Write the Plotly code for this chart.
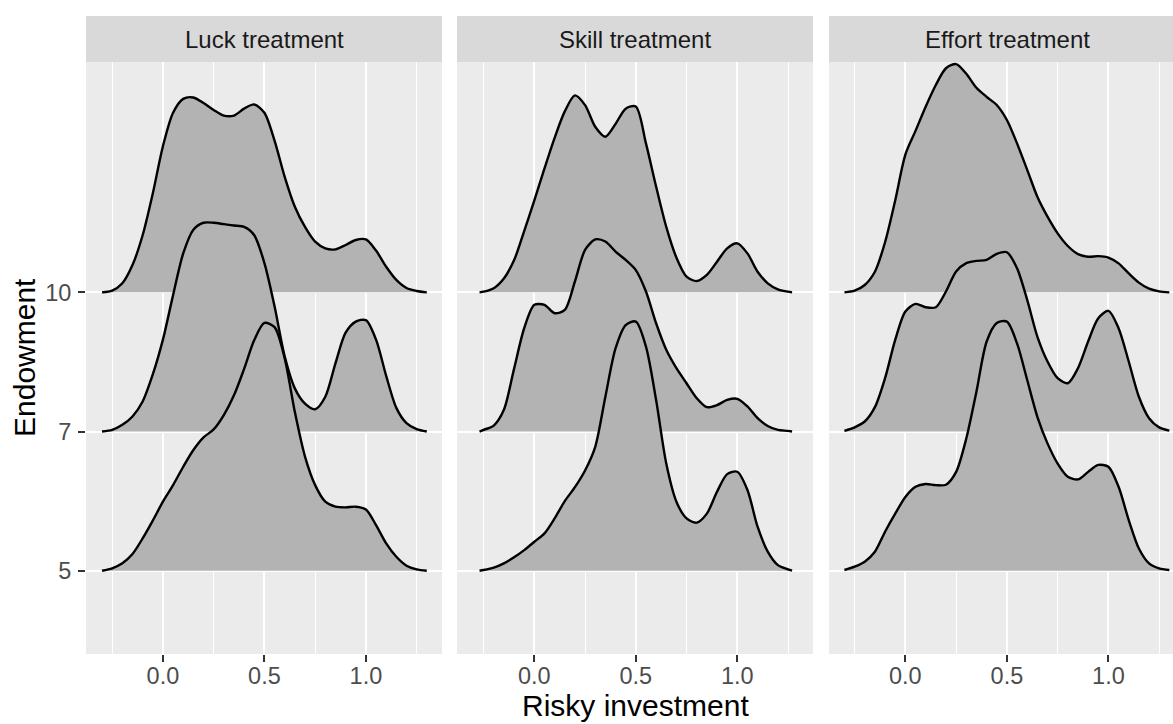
import plotly.graph_objects as go

# ---------------- data ----------------
treatments = ["Luck treatment", "Skill treatment", "Effort treatment"]
endowment_labels = ["5", "7", "10"]
endowment_positions = [1, 2, 3]
x_ticks = [0.0, 0.5, 1.0]
x_tick_labels = ["0.0", "0.5", "1.0"]
x_minor = [-0.25, 0.25, 0.75, 1.25]

x_luck = [-0.30, -0.25, -0.20, -0.15, -0.10, -0.05, 0.00, 0.05, 0.10, 0.15, 0.20,
          0.25, 0.30, 0.35, 0.40, 0.45, 0.50, 0.55, 0.60, 0.65, 0.70, 0.75, 0.80,
          0.85, 0.90, 0.95, 1.00, 1.05, 1.10, 1.15, 1.20, 1.25, 1.30]
x_skill = [-0.27, -0.25, -0.20, -0.15, -0.10, -0.05, 0.00, 0.05, 0.10, 0.15, 0.20,
           0.25, 0.30, 0.35, 0.40, 0.45, 0.50, 0.55, 0.60, 0.65, 0.70, 0.75, 0.80,
           0.85, 0.90, 0.95, 1.00, 1.05, 1.10, 1.15, 1.20, 1.25, 1.27]
x_effort = [-0.30, -0.25, -0.20, -0.15, -0.10, -0.05, 0.00, 0.05, 0.10, 0.15, 0.20,
            0.25, 0.30, 0.35, 0.40, 0.45, 0.50, 0.55, 0.60, 0.65, 0.70, 0.75, 0.80,
            0.85, 0.90, 0.95, 1.00, 1.05, 1.10, 1.15, 1.20, 1.25, 1.30]

# ridge heights (scaled density) per endowment
luck_10 = [0, 0.012, 0.065, 0.196, 0.41, 0.71, 1.05, 1.29, 1.39, 1.40, 1.36, 1.31, 1.27,
           1.27, 1.32, 1.35, 1.29, 1.09, 0.83, 0.615, 0.47, 0.364, 0.316, 0.309, 0.34,
           0.376, 0.38, 0.30, 0.184, 0.089, 0.031, 0.01, 0]
luck_7 = [0, 0.012, 0.048, 0.108, 0.216, 0.41, 0.66, 0.98, 1.28, 1.45, 1.50, 1.50, 1.49,
          1.48, 1.47, 1.41, 1.21, 0.90, 0.54, 0.31, 0.20, 0.16, 0.25, 0.49, 0.71, 0.79,
          0.80, 0.66, 0.40, 0.17, 0.06, 0.017, 0]
luck_5 = [0, 0.017, 0.053, 0.12, 0.232, 0.36, 0.496, 0.615, 0.747, 0.867, 0.958, 1.015,
          1.118, 1.26, 1.45, 1.657, 1.78, 1.75, 1.525, 1.14, 0.82, 0.615, 0.496, 0.46,
          0.455, 0.46, 0.44, 0.328, 0.196, 0.10, 0.036, 0.01, 0]

skill_10 = [0, 0.005, 0.03, 0.10, 0.23, 0.44, 0.66, 0.89, 1.11, 1.30, 1.415, 1.345,
            1.19, 1.118, 1.21, 1.32, 1.335, 1.07, 0.76, 0.47, 0.25, 0.113, 0.081,
            0.125, 0.22, 0.316, 0.352, 0.28, 0.148, 0.065, 0.022, 0.005, 0]
skill_7 = [0, 0.012, 0.043, 0.156, 0.45, 0.742, 0.91, 0.91, 0.85, 0.874, 1.078, 1.305,
           1.38, 1.365, 1.293, 1.233, 1.16, 1.006, 0.778, 0.587, 0.455, 0.347, 0.24,
           0.175, 0.19, 0.227, 0.235, 0.18, 0.096, 0.04, 0.012, 0.005, 0]
skill_5 = [0, 0.005, 0.022, 0.053, 0.096, 0.148, 0.208, 0.268, 0.376, 0.50, 0.60, 0.72,
           0.89, 1.25, 1.597, 1.765, 1.79, 1.61, 1.226, 0.77, 0.496, 0.376, 0.345, 0.41,
           0.567, 0.694, 0.711, 0.58, 0.316, 0.137, 0.04, 0.01, 0]

effort_10 = [0, 0.012, 0.053, 0.148, 0.36, 0.66, 0.99, 1.16, 1.334, 1.49, 1.61, 1.64,
             1.57, 1.47, 1.405, 1.346, 1.238, 1.07, 0.88, 0.687, 0.544, 0.424, 0.333,
             0.275, 0.256, 0.26, 0.25, 0.208, 0.136, 0.07, 0.026, 0.007, 0]
effort_7 = [0.005, 0.03, 0.072, 0.175, 0.383, 0.658, 0.862, 0.917, 0.893, 0.893, 1.006,
            1.15, 1.21, 1.226, 1.233, 1.276, 1.288, 1.173, 0.946, 0.682, 0.503, 0.383,
            0.347, 0.455, 0.647, 0.814, 0.867, 0.742, 0.503, 0.25, 0.096, 0.03, 0.007]
effort_5 = [0.005, 0.029, 0.065, 0.136, 0.28, 0.41, 0.53, 0.603, 0.623, 0.615, 0.618,
            0.71, 0.95, 1.286, 1.645, 1.78, 1.79, 1.633, 1.37, 1.106, 0.915, 0.77, 0.675,
            0.656, 0.71, 0.76, 0.747, 0.603, 0.364, 0.16, 0.053, 0.017, 0.005]

panels = [
    (x_luck, {"10": luck_10, "7": luck_7, "5": luck_5}),
    (x_skill, {"10": skill_10, "7": skill_7, "5": skill_5}),
    (x_effort, {"10": effort_10, "7": effort_7, "5": effort_5}),
]

# ---------------- layout geometry ----------------
W, H = 1173, 724
FONT = "Liberation Sans, Arial, sans-serif"
panel_px = [(86, 442), (457, 813), (829, 1173)]
x_ranges = [[-0.379, 1.375], [-0.381, 1.373], [-0.376, 1.318]]
panel_top, panel_bot = 62, 654
strip_top = 16
y_range = [0.4016, 4.655]

def px_x(p):
    return p / W

def px_y(p):
    return (H - p) / H

fig = go.Figure()
pos_of = dict(zip(endowment_labels, endowment_positions))

for i, (xs, ridges) in enumerate(panels):
    xa = "x" if i == 0 else f"x{i+1}"
    ya = "y" if i == 0 else f"y{i+1}"
    for lab in ["10", "7", "5"]:
        base = pos_of[lab]
        hs = ridges[lab]
        fig.add_trace(go.Scatter(
            x=xs, y=[base] * len(xs), mode="lines",
            line=dict(width=0, color="rgba(0,0,0,0)"),
            xaxis=xa, yaxis=ya, showlegend=False, hoverinfo="skip"))
        fig.add_trace(go.Scatter(
            x=xs, y=[base + h for h in hs], mode="lines",
            line=dict(color="black", width=2.4, shape="spline", smoothing=0.8),
            fill="tonexty", fillcolor="#B3B3B3",
            xaxis=xa, yaxis=ya, showlegend=False,
            name=f"{treatments[i]} - {lab}"))

layout = dict(
    width=W, height=H,
    margin=dict(l=0, r=0, t=0, b=0),
    paper_bgcolor="white",
    plot_bgcolor="#EBEBEB",
    font=dict(family=FONT, color="#4D4D4D"),
    showlegend=False,
)

for i in range(3):
    suffix = "" if i == 0 else str(i + 1)
    layout["xaxis" + suffix] = dict(
        domain=[px_x(panel_px[i][0]), px_x(panel_px[i][1])],
        range=x_ranges[i], anchor="y" + suffix,
        tickvals=x_ticks, ticktext=x_tick_labels,
        ticks="outside", ticklen=7, tickwidth=2.2, tickcolor="#333333",
        tickfont=dict(size=23.5, color="#4D4D4D", family=FONT),
        ticklabelstandoff=-6,
        showgrid=True, gridcolor="white", gridwidth=2.1,
        zeroline=False, showline=False,
        minor=dict(tickvals=x_minor, showgrid=True, gridcolor="white",
                   gridwidth=1.1, ticks=""),
    )
    layout["yaxis" + suffix] = dict(
        domain=[px_y(panel_bot), px_y(panel_top)],
        range=y_range, anchor="x" + suffix,
        tickvals=endowment_positions, ticktext=endowment_labels,
        ticks="outside" if i == 0 else "", ticklen=7, tickwidth=2.2,
        tickcolor="#333333", showticklabels=(i == 0),
        tickfont=dict(size=23.5, color="#4D4D4D", family=FONT),
        ticklabelstandoff=2,
        showgrid=True, gridcolor="white", gridwidth=2.1,
        zeroline=False, showline=False,
    )

shapes = []
annotations = []
for i, t in enumerate(treatments):
    x0, x1 = panel_px[i]
    xr = x1 if i < 2 else 1185
    shapes.append(dict(type="rect", xref="paper", yref="paper",
                       x0=px_x(x0), x1=px_x(xr),
                       y0=px_y(panel_top), y1=px_y(strip_top),
                       fillcolor="#D9D9D9", line=dict(width=0), layer="below"))
    annotations.append(dict(text=t, xref="paper", yref="paper",
                            x=px_x((x0 + xr) / 2),
                            y=px_y((panel_top + strip_top) / 2),
                            xanchor="center", yanchor="middle", showarrow=False,
                            font=dict(size=24, color="#1A1A1A", family=FONT)))

annotations.append(dict(text="Risky investment", xref="paper", yref="paper",
                        x=px_x(635), y=px_y(705), xanchor="center", yanchor="middle",
                        showarrow=False, font=dict(size=30, color="black", family=FONT)))
annotations.append(dict(text="Endowment", xref="paper", yref="paper",
                        x=px_x(24), y=px_y(358), xanchor="center", yanchor="middle",
                        textangle=-90, showarrow=False,
                        font=dict(size=30, color="black", family=FONT)))

layout["shapes"] = shapes
layout["annotations"] = annotations
fig.update_layout(**layout)

fig.write_html("out.html",
               config={"displayModeBar": False},
               post_script="document.body.style.margin='0';document.body.style.padding='0';")
